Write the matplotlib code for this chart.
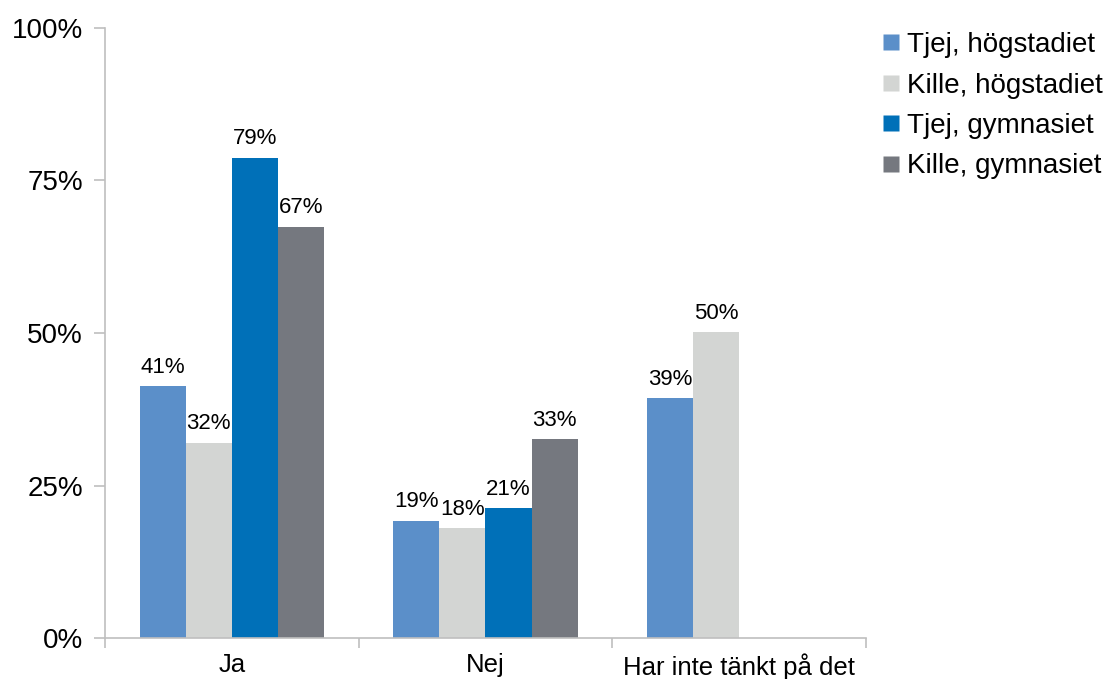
import numpy as np
import matplotlib
matplotlib.use("Agg")
import matplotlib.pyplot as plt
from matplotlib.lines import Line2D

plt.rcParams['font.family'] = ['Liberation Sans', 'DejaVu Sans']

categories = ["Ja", "Nej", "Har inte tänkt på det"]
series_names = ["Tjej, högstadiet", "Kille, högstadiet", "Tjej, gymnasiet", "Kille, gymnasiet"]
tjej_hog = [41.3, 19.2, 39.3]
kille_hog = [32.0, 18.0, 50.1]
tjej_gym = [78.7, 21.3, np.nan]
kille_gym = [67.4, 32.6, np.nan]
colors = ["#5B8FC9", "#D3D5D3", "#0070B8", "#75787F"]
yticks = [0, 25, 50, 75, 100]

fig = plt.figure(figsize=(11.05, 6.79), dpi=100)
ax = fig.add_axes([105/1105, 41/679, (866-105)/1105, (638-28)/679])

series = [tjej_hog, kille_hog, tjej_gym, kille_gym]
x = np.arange(len(categories))
w = 0.1815
for i, (vals, c) in enumerate(zip(series, colors)):
    pos = x - 1.5*w + i*w
    for p, v in zip(pos, vals):
        if np.isnan(v):
            continue
        ax.bar(p, v, width=w, color=c, edgecolor='none')
        ax.text(p, v + 1.4, f"{round(v):.0f}%", ha='center', va='bottom', fontsize=16)

ax.set_xlim(-0.5, len(categories) - 0.5)
ax.set_ylim(0, 100)
ax.set_yticks(yticks)
ax.set_yticklabels([f"{t}%" for t in yticks], fontsize=20)
ax.set_xticks(x)
ax.set_xticklabels(categories, fontsize=18.5)
ax.set_xticks(np.arange(len(categories)+1) - 0.5, minor=True)
ax.tick_params(axis='x', which='major', length=0, pad=11)
ax.tick_params(axis='x', which='minor', length=7, color='#BFBFBF', width=1.2)
ax.tick_params(axis='y', length=8, color='#BFBFBF', width=1.2, pad=8)
for s in ['top', 'right']:
    ax.spines[s].set_visible(False)
for s in ['left', 'bottom']:
    ax.spines[s].set_color('#BFBFBF')
    ax.spines[s].set_linewidth(1.2)

handles = [Line2D([], [], marker='s', linestyle='none', markersize=11,
                  markerfacecolor=c, markeredgecolor='none') for c in colors]
fig.legend(handles, series_names, loc='upper left', bbox_to_anchor=(872/1105, 1 - 21/679),
           frameon=False, fontsize=20, handlelength=0.6, handletextpad=0.25,
           labelspacing=0.52, borderaxespad=0)

fig.savefig("out.png", dpi=100)
